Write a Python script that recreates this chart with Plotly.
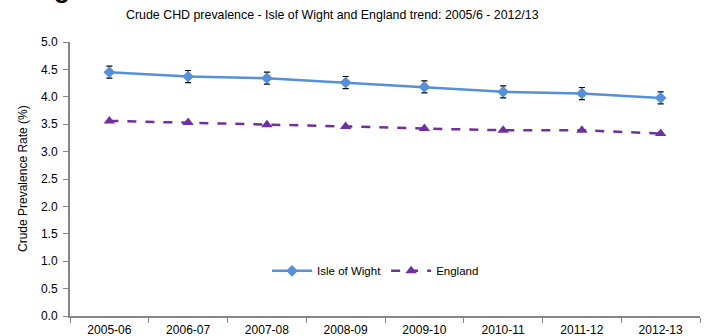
import plotly.graph_objects as go

years = ["2005-06", "2006-07", "2007-08", "2008-09", "2009-10", "2010-11", "2011-12", "2012-13"]
iow = [4.45, 4.37, 4.34, 4.26, 4.18, 4.09, 4.06, 3.98]
iow_err = [0.11, 0.11, 0.11, 0.11, 0.11, 0.11, 0.11, 0.11]
england = [3.56, 3.53, 3.49, 3.46, 3.42, 3.39, 3.39, 3.33]
y_ticks = [0.0, 0.5, 1.0, 1.5, 2.0, 2.5, 3.0, 3.5, 4.0, 4.5, 5.0]

fig = go.Figure()
fig.add_trace(go.Scatter(
    x=years, y=iow, name="Isle of Wight", mode="lines+markers",
    line=dict(color="#5590D9", width=2.5),
    marker=dict(symbol="diamond", size=9, color="#5590D9"),
    error_y=dict(type="data", array=iow_err, visible=True, color="#000000", thickness=1.2, width=3),
))
fig.add_trace(go.Scatter(
    x=years, y=england, name="England", mode="lines+markers",
    line=dict(color="#7030A0", width=2.5, dash="dash"),
    marker=dict(symbol="triangle-up", size=10, color="#7030A0"),
))

fig.update_layout(
    width=707, height=336,
    margin=dict(l=70, r=7, t=42, b=20, autoexpand=False),
    paper_bgcolor="white", plot_bgcolor="white",
    font=dict(family="Liberation Sans, Arial, sans-serif", size=12, color="#000000"),
    showlegend=True,
    legend=dict(orientation="h", x=0.485, xanchor="center", y=0.165, yanchor="middle",
                font=dict(size=11.5), bgcolor="rgba(0,0,0,0)", itemwidth=40),
    annotations=[
        dict(text="Crude CHD prevalence - Isle of Wight and England trend: 2005/6 - 2012/13",
             xref="paper", yref="paper", x=0.416, y=1, xanchor="center", yanchor="bottom",
             yshift=18, showarrow=False, font=dict(size=12.4)),
        dict(text="Crude Prevalence Rate (%)", xref="paper", yref="paper", x=0, y=0.5,
             xshift=-56, textangle=-90, showarrow=False, font=dict(size=12)),
        dict(text="<b>g</b>", xref="paper", yref="paper", x=0, y=1, xanchor="left", yanchor="bottom",
             xshift=-18, yshift=36, showarrow=False, font=dict(size=26)),
    ],
)
fig.update_xaxes(
    type="category", showline=True, linecolor="#868686", linewidth=2,
    ticks="outside", tickson="boundaries", ticklen=5, tickcolor="#868686",
    ticklabelstandoff=2, automargin=False,
    showgrid=False, zeroline=False, range=[-0.5, 7.5],
)
fig.update_yaxes(
    range=[0, 5], tickvals=y_ticks, ticktext=[f"{v:.1f}" for v in y_ticks],
    showline=True, linecolor="#868686", linewidth=2, automargin=False,
    ticks="outside", ticklen=5, tickcolor="#868686", ticklabelstandoff=3,
    showgrid=False, zeroline=False,
)
fig.write_html("out.html")
